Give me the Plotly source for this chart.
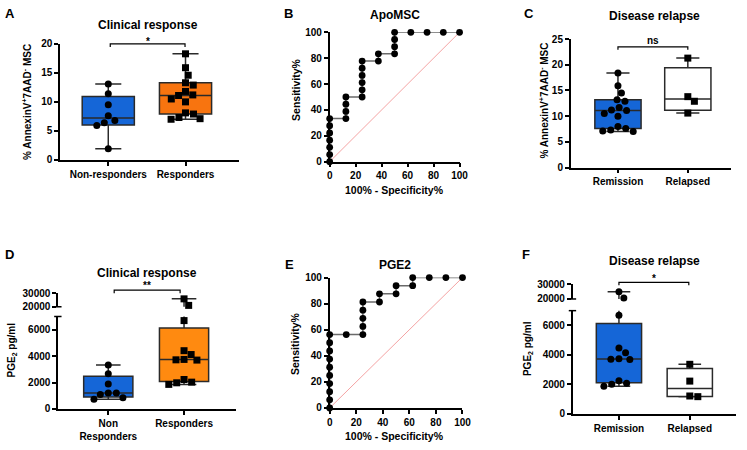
import numpy as np
import plotly.graph_objects as go

# ---------------- data ----------------
cats_response = ["Non-responders", "Responders"]
cats_response_d = ["Non<br>Responders", "Responders"]
cats_relapse = ["Remission", "Relapsed"]

# A: % AnnexinV+7AAD- MSC, clinical response
apo_nonresp = [13.1, 11.4, 9.5, 7.6, 6.8, 6.4, 5.9, 1.9]
apo_resp = [18.3, 15.9, 14.6, 13.3, 12.9, 11.8, 11.2, 11.1, 10.5, 10.0, 8.1, 7.9, 7.3, 7.1, 7.0]
# C: % AnnexinV+7AAD- MSC, disease relapse
apo_remission = [18.4, 15.9, 14.5, 13.2, 12.9, 11.7, 11.2, 11.1, 10.5, 10.0, 8.0, 7.6, 7.3, 7.1, 7.0]
apo_relapsed = [21.3, 13.8, 12.9, 10.6]
# D: PGE2 pg/ml, clinical response
pge_nonresp = [3330, 2670, 1890, 1200, 1200, 1100, 850, 730]
pge_resp = [25800, 21000, 6690, 4410, 4120, 3750, 3720, 3700, 2230, 2030, 1980, 1860]
# F: PGE2 pg/ml, disease relapse
pge_remission = [25000, 20650, 6680, 4460, 4150, 3740, 3710, 3690, 2240, 2070, 2000, 1870]
pge_relapsed = [3360, 2220, 1210, 1165]

# B: ROC ApoMSC (100% - specificity, sensitivity)
roc_apo_fpr = [0, 0, 0, 0, 0, 0, 0, 12.5, 12.5, 12.5, 12.5, 25, 25, 25, 25, 25, 25,
               37.5, 37.5, 50, 50, 50, 50, 62.5, 75, 87.5, 100]
roc_apo_tpr = [0, 5.56, 11.11, 16.67, 22.22, 27.78, 33.33, 33.33, 38.89, 44.44, 50,
               50, 55.56, 61.11, 66.67, 72.22, 77.78, 77.78, 83.33, 83.33, 88.89, 94.44,
               100, 100, 100, 100, 100]
# E: ROC PGE2
roc_pge_fpr = [0, 0, 0, 0, 0, 0, 0, 0, 0, 0, 12.5, 25, 25, 25, 25, 25, 37.5, 37.5,
               50, 50, 62.5, 62.5, 75, 87.5, 100]
roc_pge_tpr = [0, 6.25, 12.5, 18.75, 25, 31.25, 37.5, 43.75, 50, 56.25, 56.25, 56.25,
               62.5, 68.75, 75, 81.25, 81.25, 87.5, 87.5, 93.75, 93.75, 100, 100, 100, 100]

roc_range = [0, 100]
roc_ticks = [0, 20, 40, 60, 80, 100]
apo_ticks_a = [0, 5, 10, 15, 20]
apo_ticks_c = [0, 5, 10, 15, 20, 25]
pge_ticks_low = [0, 2000, 4000, 6000]
pge_ticks_high = [20000, 30000]

# ---------------- styling / geometry ----------------
W, H = 747, 450
FONT = "Liberation Sans, Arial, Helvetica, sans-serif"
BLUE = "#1566D7"
ORANGE_A = "#F8740F"
ORANGE_D = "#FF8A10"
WHITE = "#FFFFFF"
EDGE = "#2a2a2a"


def fx(px):
    return px / W


def fy(py):
    return 1 - py / H


layout = dict(width=W, height=H, margin=dict(l=0, r=0, t=0, b=0), autosize=False,
              paper_bgcolor="white", plot_bgcolor="white", showlegend=False,
              font=dict(family=FONT, color="black"))
traces, shapes, annotations = [], [], []


def tfont(size=10):
    return dict(family=FONT, size=size, color="black", weight="bold")


def axis_common():
    return dict(showline=True, linecolor="black", linewidth=1.5, ticks="outside",
                ticklen=4, tickwidth=1.5, tickcolor="black", showgrid=False,
                zeroline=False, fixedrange=True, tickfont=tfont(10))


def aname(kind, idx):
    return kind + ("" if idx == 1 else str(idx))


def add_x(idx, x0, x1, rng, anchor, tickvals, ticktext=None):
    d = axis_common()
    d.update(domain=[fx(x0), fx(x1)], range=rng, anchor=anchor, tickvals=tickvals)
    if ticktext is not None:
        d["ticktext"] = ticktext
    layout[aname("xaxis", idx)] = d


def add_y(idx, ybot, ytop, rng, anchor, tickvals):
    d = axis_common()
    d.update(domain=[fy(ybot), fy(ytop)], range=rng, anchor=anchor,
             tickvals=tickvals, tickformat="d")
    layout[aname("yaxis", idx)] = d


def ann(text, xpx, ypx, size=10, angle=0, xanchor="center", yanchor="middle"):
    annotations.append(dict(text=text, x=fx(xpx), y=fy(ypx), xref="paper", yref="paper",
                            showarrow=False, textangle=angle, xanchor=xanchor,
                            yanchor=yanchor, font=tfont(size)))


def swarm(ypx, d):
    """simple beeswarm: horizontal pixel offsets so markers do not overlap"""
    ypx = list(ypx)
    offs = [0.0] * len(ypx)
    placed = []
    for i in np.argsort(ypx):
        y = ypx[i]
        ints, cands = [], [0.0]
        for (px, py) in placed:
            dy = abs(py - y)
            if dy < d:
                w = np.sqrt(d * d - dy * dy)
                ints.append((px - w, px + w))
                cands += [px + w, px - w]
        ok = [c for c in cands if all(not (a + 1e-6 < c < b - 1e-6) for a, b in ints)]
        best = min(ok, key=abs)
        offs[i] = best
        placed.append((best, y))
    return offs


def box_panel(xi, x0, x1, c0, unit, box_px, segments, groups, cats):
    rng_x = [-(c0 - x0) / unit, (x1 - c0) / unit]
    add_x(xi, x0, x1, rng_x, aname("y", segments[0]["idx"]), [0, 1], cats)
    for s in segments:
        add_y(s["idx"], s["ybot"], s["ytop"], s["range"], aname("x", xi), s["ticks"])

    def seg_of(v):
        for s in segments:
            if s["range"][0] <= v <= s["range"][1]:
                return s
        return segments[0]

    def to_px(v):
        s = seg_of(v)
        lo, hi = s["range"]
        return s["ybot"] - (v - lo) / (hi - lo) * (s["ybot"] - s["ytop"])

    for pos, (vals, fill, symbol) in enumerate(groups):
        v = np.array(vals, dtype=float)
        q1, med, q3 = np.percentile(v, [25, 50, 75], method="weibull")
        for s in segments:
            traces.append(go.Box(
                x=[pos], q1=[q1], median=[med], q3=[q3], lowerfence=[v.min()],
                upperfence=[v.max()], width=box_px / unit, whiskerwidth=0.5,
                fillcolor=fill, line=dict(color=EDGE, width=1.5), boxpoints=False,
                xaxis=aname("x", xi), yaxis=aname("y", s["idx"]), hoverinfo="skip"))
        offs = swarm([to_px(t) for t in v], 8.2)
        for s in segments:
            sel = [k for k, t in enumerate(v) if seg_of(t) is s]
            if not sel:
                continue
            traces.append(go.Scatter(
                x=[pos + offs[k] / unit for k in sel], y=[v[k] for k in sel],
                mode="markers", cliponaxis=False,
                marker=dict(symbol=symbol, size=7, color="black"),
                xaxis=aname("x", xi), yaxis=aname("y", s["idx"]), hoverinfo="skip"))
    if len(segments) > 1:
        low, up = segments[0], segments[1]
        for ypx in (low["ytop"], up["ybot"]):
            shapes.append(dict(type="line", xref="paper", yref="paper",
                               x0=fx(x0 - 4), x1=fx(x0 + 3.5), y0=fy(ypx), y1=fy(ypx),
                               line=dict(color="black", width=1.5)))


def roc_panel(i, x0, x1, ybot, ytop, fpr, tpr):
    add_x(i, x0, x1, roc_range, aname("y", i), roc_ticks)
    add_y(i, ybot, ytop, roc_range, aname("x", i), roc_ticks)
    shapes.append(dict(type="line", xref=aname("x", i), yref=aname("y", i),
                       x0=roc_range[0], y0=roc_range[0], x1=roc_range[1], y1=roc_range[1],
                       line=dict(color="#F4A3A3", width=1), layer="below"))
    traces.append(go.Scatter(x=fpr, y=tpr, mode="lines+markers", cliponaxis=False,
                             line=dict(color="#6a6a6a", width=1.5),
                             marker=dict(size=6.8, color="black"),
                             xaxis=aname("x", i), yaxis=aname("y", i), hoverinfo="skip"))


def sig_bar(xa, xb, ypx, text, tpx):
    shapes.append(dict(type="path", xref="paper", yref="paper",
                       path=f"M {fx(xa)},{fy(ypx + 3)} L {fx(xa)},{fy(ypx)} "
                            f"L {fx(xb)},{fy(ypx)} L {fx(xb)},{fy(ypx + 3)}",
                       line=dict(color="black", width=1.2)))
    ann(text, (xa + xb) / 2, tpx, size=10)


# ---- A ----
box_panel(1, 58, 240, 107, 78.5, 53,
          [dict(idx=1, ybot=158, ytop=39, range=[0, 20], ticks=apo_ticks_a)],
          [(apo_nonresp, BLUE, "circle"), (apo_resp, ORANGE_A, "square")], cats_response)
# ---- B ----
roc_panel(2, 332, 464, 160, 27, roc_apo_fpr, roc_apo_tpr)
# ---- C ----
box_panel(3, 577, 740, 625, 71, 47,
          [dict(idx=3, ybot=166, ytop=34, range=[0, 25], ticks=apo_ticks_c)],
          [(apo_remission, BLUE, "circle"), (apo_relapsed, WHITE, "square")], cats_relapse)
# ---- D ----
box_panel(4, 56, 237, 107, 77, 50,
          [dict(idx=4, ybot=414, ytop=319, range=[0, 7000], ticks=pge_ticks_low),
           dict(idx=5, ybot=309, ytop=295, range=[20000, 30000], ticks=pge_ticks_high)],
          [(pge_nonresp, BLUE, "circle"), (pge_resp, ORANGE_D, "square")], cats_response_d)
# ---- E ----
roc_panel(6, 332, 467, 413, 279, roc_pge_fpr, roc_pge_tpr)
# ---- F ----
box_panel(7, 579, 745, 626, 72, 46,
          [dict(idx=7, ybot=419, ytop=313, range=[0, 7000], ticks=pge_ticks_low),
           dict(idx=8, ybot=301, ytop=286, range=[20000, 30000], ticks=pge_ticks_high)],
          [(pge_remission, BLUE, "circle"), (pge_relapsed, WHITE, "square")], cats_relapse)

# titles
ann("Clinical response", 147, 20, 12)
ann("ApoMSC", 398, 9, 12)
ann("Disease relapse", 662, 10, 12)
ann("Clinical response", 146, 274, 12)
ann("PGE2", 398, 266, 12)
ann("Disease relapse", 662, 262, 12)
# panel letters
for letter, xp, yp in [("A", 7, 8), ("B", 290, 8), ("C", 535, 8),
                       ("D", 7, 255), ("E", 291, 266), ("F", 532, 255)]:
    ann(letter, xp, yp, 13)
# axis titles
apo_title = "% AnnexinV<sup>+</sup>7AAD<sup>-</sup> MSC"
pge_title = "PGE<sub>2</sub> pg/ml"
ann(apo_title, 25, 99, 10, -90)
ann("Sensitivity%", 297, 86, 10.5, -90)
ann(apo_title, 550, 97, 10, -90)
ann(pge_title, 9, 353, 10, -90)
ann("Sensitivity%", 297, 347, 10.5, -90)
ann(pge_title, 533, 352, 10, -90)
ann("100% - Specificity%", 398, 189, 10.5)
ann("100% - Specificity%", 398, 442, 10.5)
# significance bars
sig_bar(109, 185, 39, "*", 36)
sig_bar(625, 696, 42, "ns", 35)
sig_bar(113, 180, 292, "**", 287)
sig_bar(626, 697, 284, "*", 280)

layout["shapes"] = shapes
layout["annotations"] = annotations
fig = go.Figure(data=traces, layout=layout)
fig.write_html("out.html", config={"displayModeBar": False},
               post_script="document.body.style.margin='0';document.body.style.padding='0';")
